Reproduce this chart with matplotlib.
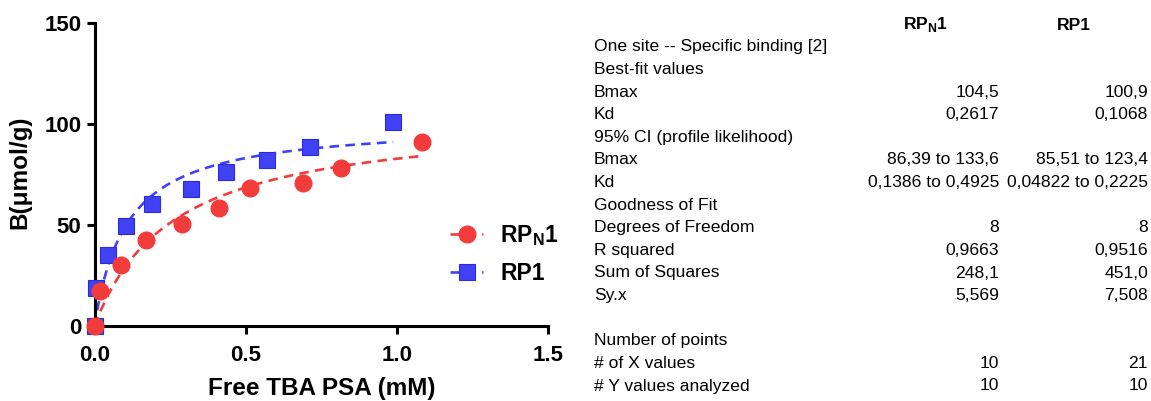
import numpy as np
import matplotlib
matplotlib.use("Agg")
import matplotlib.pyplot as plt

plt.rcParams["font.family"] = ["Liberation Sans", "DejaVu Sans"]
plt.rcParams["mathtext.fontset"] = "custom"
plt.rcParams["mathtext.rm"] = "Liberation Sans"
plt.rcParams["mathtext.bf"] = "Liberation Sans:bold"

# Saturation binding data
rpn1_x = [0.0, 0.018, 0.089, 0.171, 0.288, 0.412, 0.514, 0.688, 0.814, 1.083]
rpn1_y = [0.0, 17.5, 30.0, 42.5, 50.5, 58.3, 68.2, 71.0, 78.3, 91.2]
rp1_x = [0.0, 0.004, 0.044, 0.104, 0.190, 0.318, 0.434, 0.572, 0.714, 0.988]
rp1_y = [0.0, 18.7, 35.3, 49.3, 60.6, 67.9, 76.2, 82.1, 88.4, 100.8]

# One site -- specific binding fit parameters
rpn1_bmax, rpn1_kd = 104.5, 0.2617
rp1_bmax, rp1_kd = 100.9, 0.1068

series_labels = [r"RP$_{\mathbf{N}}$1", "RP1"]
x_ticks = [0.0, 0.5, 1.0, 1.5]
y_ticks = [0, 50, 100, 150]

# Results table
table_headers = [r"RP$_{\mathbf{N}}$1", "RP1"]
table_rows = [
    ("One site -- Specific binding [2]", "", ""),
    ("Best-fit values", "", ""),
    ("Bmax", "104,5", "100,9"),
    ("Kd", "0,2617", "0,1068"),
    ("95% CI (profile likelihood)", "", ""),
    ("Bmax", "86,39 to 133,6", "85,51 to 123,4"),
    ("Kd", "0,1386 to 0,4925", "0,04822 to 0,2225"),
    ("Goodness of Fit", "", ""),
    ("Degrees of Freedom", "8", "8"),
    ("R squared", "0,9663", "0,9516"),
    ("Sum of Squares", "248,1", "451,0"),
    ("Sy.x", "5,569", "7,508"),
    ("", "", ""),
    ("Number of points", "", ""),
    ("# of X values", "10", "21"),
    ("# Y values analyzed", "10", "10"),
]

RED = "#F23C3C"
BLUE = "#4141F5"
BLUE_EDGE = "#2A2AE0"

W, H = 1151, 401
fig = plt.figure(figsize=(W / 100, H / 100), dpi=100)


def fx(px):
    return px / W


def fy(py):
    return 1 - py / H


ax = fig.add_axes([fx(94.5), fy(326), fx(548) - fx(94.5), fy(23) - fy(326)])


def one_site(x, bmax, kd):
    return bmax * x / (kd + x)


DASH = (3.6, 2.4)
xs = np.linspace(0, max(rpn1_x), 200)
ax.plot(xs, one_site(xs, rpn1_bmax, rpn1_kd), color=RED, lw=1.9,
        dashes=DASH, zorder=2)
xs = np.linspace(0, max(rp1_x), 200)
ax.plot(xs, one_site(xs, rp1_bmax, rp1_kd), color=BLUE, lw=1.9,
        dashes=DASH, zorder=2)

ax.plot(rp1_x, rp1_y, ls="none", marker="s", ms=11, color=BLUE,
        mec=BLUE_EDGE, mew=0.8, clip_on=False, zorder=3)
ax.plot(rpn1_x, rpn1_y, ls="none", marker="o", ms=12, color=RED,
        mec=RED, clip_on=False, zorder=4)

# Legend handles: dashed line with marker
h1, = ax.plot([], [], color=RED, lw=1.9, dashes=DASH, marker="o", ms=12)
h2, = ax.plot([], [], color=BLUE, lw=1.9, dashes=DASH, marker="s", ms=11,
              mec=BLUE_EDGE, mew=0.8)
ax.legend([h1, h2], series_labels, loc="center left",
          bbox_to_anchor=((450 - 94.5) / (548 - 94.5), (326 - 254) / 303),
          frameon=False, handlelength=1.45, handletextpad=0.75,
          labelspacing=0.6, borderpad=0, borderaxespad=0,
          prop={"weight": "bold", "size": 16.5})

ax.set_xlim(0, 1.5)
ax.set_ylim(0, 150)
ax.set_xticks(x_ticks)
ax.set_xticklabels([f"{v:.1f}" for v in x_ticks])
ax.set_yticks(y_ticks)
ax.set_yticklabels([str(v) for v in y_ticks])
for s in ("top", "right"):
    ax.spines[s].set_visible(False)
for s in ("left", "bottom"):
    ax.spines[s].set_linewidth(2.2)
ax.tick_params(width=2.2, length=5.5, labelsize=16)
ax.tick_params(axis="x", pad=8)
ax.tick_params(axis="y", pad=4)
for lab in ax.get_xticklabels() + ax.get_yticklabels():
    lab.set_fontweight("bold")

fig.text(fx(322), fy(388), "Free TBA PSA (mM)", ha="center", va="center",
         fontsize=17.5, fontweight="bold")
fig.text(fx(20), fy(172), "B(\u03bcmol/g)", ha="center", va="center",
         rotation=90, fontsize=17.5, fontweight="bold")

# Table on the right
fig.text(fx(926), fy(25), table_headers[0], ha="center", va="center",
         fontsize=12.6, fontweight="bold")
fig.text(fx(1074), fy(25), table_headers[1], ha="center", va="center",
         fontsize=12.6, fontweight="bold")
row_y0, row_dy = 47, 22.6
for i, (label, v1, v2) in enumerate(table_rows):
    y = fy(row_y0 + i * row_dy)
    if label:
        fig.text(fx(594), y, label, ha="left", va="center", fontsize=12.6)
    if v1:
        fig.text(fx(999), y, v1, ha="right", va="center", fontsize=12.6)
    if v2:
        fig.text(fx(1148), y, v2, ha="right", va="center", fontsize=12.6)

fig.savefig("out.png", dpi=100)
